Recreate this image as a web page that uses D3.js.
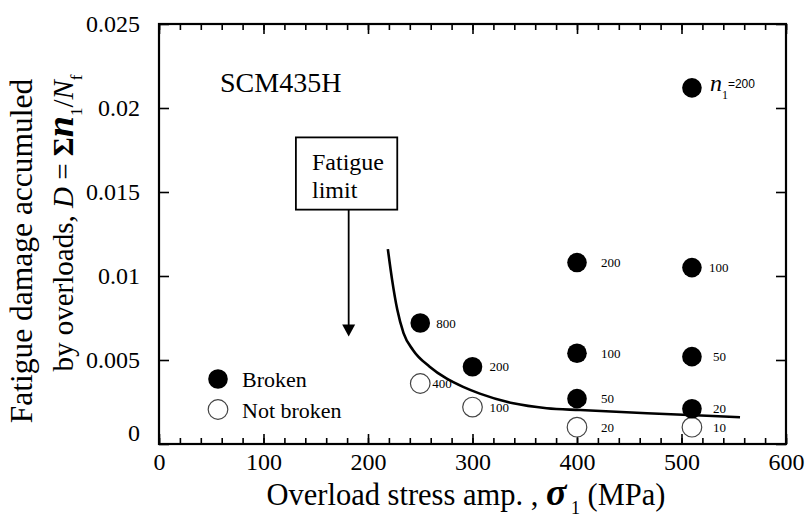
<!DOCTYPE html>
<html><head><meta charset="utf-8">
<script src="https://cdn.jsdelivr.net/npm/d3@7"></script>
<style>body{margin:0;background:#fff}</style>
</head><body><svg id="c" width="806" height="519"></svg>
<script>
// ---- data ----
const brokenX = [250, 300, 400, 400, 400, 510, 510, 510, 510];
const brokenD = [0.0072, 0.0046, 0.0108, 0.0054, 0.0027, 0.0212, 0.0105, 0.0052, 0.0021];
const brokenN = ["800", "200", "200", "100", "50", "200", "100", "50", "20"];
const notBrokenX = [250, 300, 400, 510];
const notBrokenD = [0.0036, 0.0022, 0.0010, 0.0010];
const notBrokenN = ["400", "100", "20", "10"];
const curveX = [219, 223, 228, 234, 243, 259, 275, 291, 307, 339, 371, 403, 467, 530, 556];
const curveD = [0.0116, 0.0098, 0.0080, 0.0066, 0.0056, 0.0046, 0.0039, 0.0034, 0.0030, 0.00242, 0.00213, 0.00202, 0.00183, 0.00167, 0.00159];
const xTicks = [0, 100, 200, 300, 400, 500, 600];
const xTickLabels = ["0", "100", "200", "300", "400", "500", "600"];
const xMinorTicks = [0,20,40,60,80,100,120,140,160,180,200,220,240,260,280,300,320,340,360,380,400,420,440,460,480,500,520,540,560,580,600];
const yTicks = [0, 0.005, 0.01, 0.015, 0.02, 0.025];
const yTickLabels = ["0", "0.005", "0.01", "0.015", "0.02", "0.025"];

// ---- layout / style ----
const brokenDx = [16, 17, 24, 24, 24, 18, 17, 21, 21];
const notBrokenDx = [12, 17, 24, 21];
const serif = "'Liberation Serif','Times New Roman',serif";
const sans = "'Liberation Sans',Arial,sans-serif";

const svg = d3.select("#c");
const x = d3.scaleLinear().domain([0, 600]).range([159, 786]);
const y = d3.scaleLinear().domain([0, 0.025]).range([444, 24]);

function styleAxis(g) {
  g.attr("font-family", serif);
  g.select(".domain").remove();
  g.selectAll(".tick line").attr("stroke", "#000").attr("stroke-width", 1.6);
  g.selectAll(".tick text").attr("font-family", serif).attr("font-size", 24).attr("fill", "#000");
}

// minor ticks bottom/top
svg.append("g").attr("transform", "translate(0,444)")
  .call(d3.axisBottom(x).tickValues(xMinorTicks).tickSize(-6).tickFormat("")).call(styleAxis);
svg.append("g").attr("transform", "translate(0,24)")
  .call(d3.axisTop(x).tickValues(xMinorTicks).tickSize(-6).tickFormat("")).call(styleAxis);
// major ticks
svg.append("g").attr("transform", "translate(0,444)")
  .call(d3.axisBottom(x).tickValues(xTicks).tickSize(-10).tickPadding(9)
    .tickFormat((d, i) => xTickLabels[i])).call(styleAxis);
svg.append("g").attr("transform", "translate(0,24)")
  .call(d3.axisTop(x).tickValues(xTicks).tickSize(-10).tickFormat("")).call(styleAxis);
const gy = svg.append("g").attr("transform", "translate(159,0)")
  .call(d3.axisLeft(y).tickValues(yTicks).tickSize(-10).tickPadding(19)
    .tickFormat((d, i) => yTickLabels[i])).call(styleAxis);
gy.selectAll(".tick text").filter(d => d === 0).attr("y", -11);
svg.append("g").attr("transform", "translate(786,0)")
  .call(d3.axisRight(y).tickValues(yTicks).tickSize(-10).tickFormat("")).call(styleAxis);

// frame
svg.append("rect").attr("x", x(0)).attr("y", y(0.025))
  .attr("width", x(600) - x(0)).attr("height", y(0) - y(0.025))
  .attr("fill", "none").attr("stroke", "#000").attr("stroke-width", 2.2);

// curve
const curvePts = curveX.map((v, i) => [v, curveD[i]]);
svg.append("path").datum(curvePts)
  .attr("d", d3.line().x(d => x(d[0])).y(d => y(d[1])).curve(d3.curveMonotoneX))
  .attr("fill", "none").attr("stroke", "#000").attr("stroke-width", 2.6);

// not broken points
notBrokenX.forEach((v, i) => {
  svg.append("circle").attr("cx", x(v)).attr("cy", y(notBrokenD[i])).attr("r", 9.8)
    .attr("fill", "#fff").attr("stroke", "#444").attr("stroke-width", 1.2);
  svg.append("text").attr("x", x(v) + notBrokenDx[i]).attr("y", y(notBrokenD[i])).attr("dy", "0.35em")
    .attr("font-family", serif).attr("font-size", 13).text(notBrokenN[i]);
});
// broken points
brokenX.forEach((v, i) => {
  svg.append("circle").attr("cx", x(v)).attr("cy", y(brokenD[i])).attr("r", 9.8).attr("fill", "#000");
  if (i === 5) {
    const t = svg.append("text").attr("x", x(v) + brokenDx[i]).attr("y", y(brokenD[i]) + 3)
      .attr("font-family", serif);
    t.append("tspan").attr("font-size", 24).attr("font-style", "italic").text("n");
    t.append("tspan").attr("font-size", 12).attr("dy", 8).text("1");
    t.append("tspan").attr("font-size", 12).attr("dy", -11).attr("font-family", sans).text("=" + brokenN[i]);
  } else {
    svg.append("text").attr("x", x(v) + brokenDx[i]).attr("y", y(brokenD[i])).attr("dy", "0.35em")
      .attr("font-family", serif).attr("font-size", 13).text(brokenN[i]);
  }
});

// SCM435H label
svg.append("text").attr("x", 220).attr("y", 92).attr("font-family", serif).attr("font-size", 28).text("SCM435H");

// Fatigue limit box & arrow
svg.append("rect").attr("x", x(131)).attr("y", y(0.01825)).attr("width", x(228) - x(131))
  .attr("height", y(0.01395) - y(0.01825)).attr("fill", "#fff").attr("stroke", "#000").attr("stroke-width", 1.8);
svg.append("text").attr("x", 312).attr("y", 170).attr("font-family", serif).attr("font-size", 24).text("Fatigue");
svg.append("text").attr("x", 312).attr("y", 198).attr("font-family", serif).attr("font-size", 24).text("limit");
const ax = x(181.5);
svg.append("line").attr("x1", ax).attr("x2", ax).attr("y1", y(0.01395)).attr("y2", y(0.0064) - 10)
  .attr("stroke", "#000").attr("stroke-width", 1.8);
svg.append("path").attr("d", `M${ax - 6.5},${y(0.0064) - 12} L${ax + 6.5},${y(0.0064) - 12} L${ax},${y(0.0064)} Z`)
  .attr("fill", "#000");

// legend
svg.append("circle").attr("cx", 218).attr("cy", 379).attr("r", 9.8).attr("fill", "#000");
svg.append("circle").attr("cx", 218).attr("cy", 409.5).attr("r", 9.8).attr("fill", "#fff").attr("stroke", "#444").attr("stroke-width", 1.2);
svg.append("text").attr("x", 242).attr("y", 387).attr("font-family", serif).attr("font-size", 22).text("Broken");
svg.append("text").attr("x", 242).attr("y", 418).attr("font-family", serif).attr("font-size", 22).text("Not broken");

// x title
const xt = svg.append("text").attr("x", 466).attr("y", 505).attr("text-anchor", "middle")
  .attr("font-family", serif).attr("font-size", 30.5);
xt.append("tspan").text("Overload stress amp. , ");
xt.append("tspan").attr("font-style", "italic").attr("font-weight", "bold").attr("font-size", 38).text("σ");
xt.append("tspan").attr("font-size", 18).attr("dy", 9).text(" 1");
xt.append("tspan").attr("dy", -9).text(" (MPa)");

// y title
svg.append("text").attr("transform", "translate(32,251) rotate(-90)").attr("text-anchor", "middle")
  .attr("font-family", serif).attr("font-size", 31.5).text("Fatigue damage accumuled");
const yt = svg.append("text").attr("transform", "translate(73,223) rotate(-90)").attr("text-anchor", "middle")
  .attr("font-family", serif).attr("font-size", 29);
yt.append("tspan").text("by overloads, ");
yt.append("tspan").attr("font-style", "italic").text("D");
yt.append("tspan").text(" = ");
yt.append("tspan").attr("font-weight", "bold").text("Σ");
yt.append("tspan").attr("font-weight", "bold").attr("font-style", "italic").attr("font-size", 38).text("n");
yt.append("tspan").attr("font-size", 17).attr("dy", 9).text("1");
yt.append("tspan").attr("dy", -9).text("/");
yt.append("tspan").attr("font-style", "italic").text("N");
yt.append("tspan").attr("font-size", 17).attr("dy", 9).text("f");
</script>
</body></html>
